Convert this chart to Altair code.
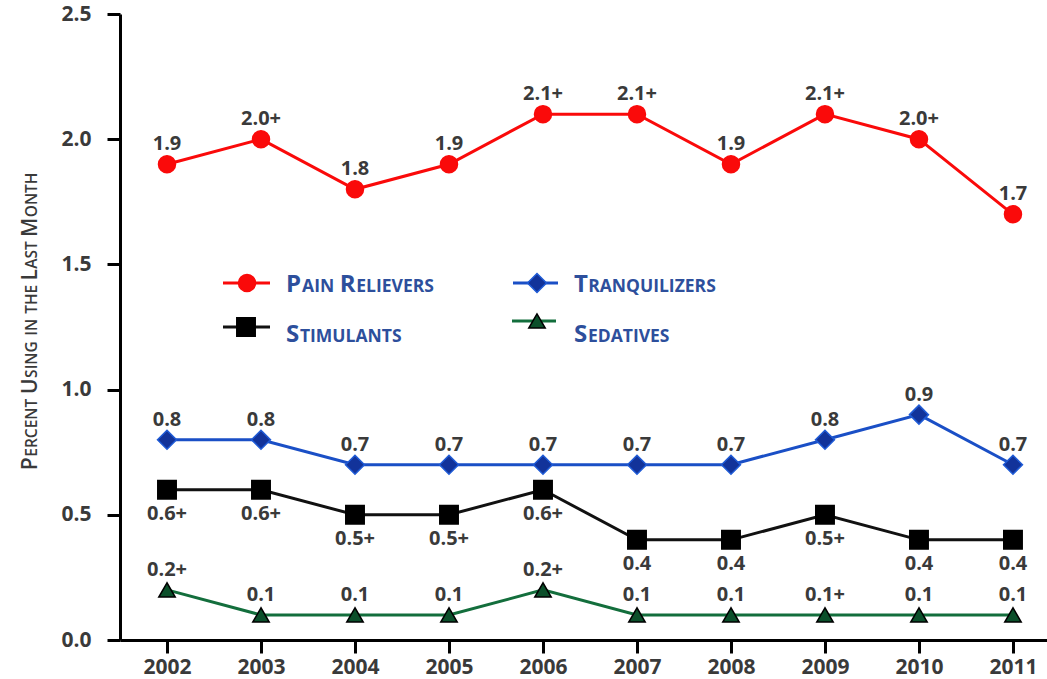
import altair as alt
import pandas as pd

# ---- data -----------------------------------------------------------------
years = [2002, 2003, 2004, 2005, 2006, 2007, 2008, 2009, 2010, 2011]

pain_values = [1.9, 2.0, 1.8, 1.9, 2.1, 2.1, 1.9, 2.1, 2.0, 1.7]
pain_labels = ["1.9", "2.0+", "1.8", "1.9", "2.1+", "2.1+", "1.9", "2.1+", "2.0+", "1.7"]

tranq_values = [0.8, 0.8, 0.7, 0.7, 0.7, 0.7, 0.7, 0.8, 0.9, 0.7]
tranq_labels = ["0.8", "0.8", "0.7", "0.7", "0.7", "0.7", "0.7", "0.8", "0.9", "0.7"]

stim_values = [0.6, 0.6, 0.5, 0.5, 0.6, 0.4, 0.4, 0.5, 0.4, 0.4]
stim_labels = ["0.6+", "0.6+", "0.5+", "0.5+", "0.6+", "0.4", "0.4", "0.5+", "0.4", "0.4"]

sed_values = [0.2, 0.1, 0.1, 0.1, 0.2, 0.1, 0.1, 0.1, 0.1, 0.1]
sed_labels = ["0.2+", "0.1", "0.1", "0.1", "0.2+", "0.1", "0.1", "0.1+", "0.1", "0.1"]

y_ticks = [0.0, 0.5, 1.0, 1.5, 2.0, 2.5]
y_title = "Percent Using in the Last Month"

FONT = "Open Sans"
TEXT_GREY = "#3a3a3a"
LEGEND_BLUE = "#2d4f9c"

# name, values, labels, line colour, shape, fill, stroke, size, label offset
series = [
    ("Pain Relievers", pain_values, pain_labels, "#fa0a0a", "circle", "#fa0a0a", "#fa0a0a", 290, -20),
    ("Tranquilizers", tranq_values, tranq_labels, "#1a4fc6", "diamond", "#12339a", "#1f5bd6", 360, -20),
    ("Stimulants", stim_values, stim_labels, "#111111", "square", "#000000", "#000000", 340, 24),
    ("Sedatives", sed_values, sed_labels, "#136e3c", "triangle-up", "#0b4f2a", "#000000", 270, -20),
]

# ---- plot geometry ---------------------------------------------------------
PAD_LEFT, PAD_TOP = 120, 14
PLOT_W, PLOT_H = 927, 626

x_enc = alt.X(
    "year:Q",
    scale=alt.Scale(domain=[2001.5, 2011.362], nice=False, zero=False),
    axis=alt.Axis(
        values=years, format="d", title=None, grid=False,
        domainColor="black", domainWidth=3,
        tickColor="black", tickWidth=3, tickSize=13,
        labelFont=FONT, labelFontSize=21, labelFontWeight="bold",
        labelColor=TEXT_GREY, labelPadding=3, labelFlush=False,
    ),
)
y_enc = alt.Y(
    "value:Q",
    scale=alt.Scale(domain=[0, 2.5], nice=False),
    axis=alt.Axis(
        values=y_ticks, format=".1f", title=None, grid=False,
        domainColor="black", domainWidth=3,
        tickColor="black", tickWidth=3, tickSize=13,
        labelFont=FONT, labelFontSize=21, labelFontWeight="bold",
        labelColor=TEXT_GREY, labelPadding=16, labelFlush=False,
    ),
)

layers = []
for name, vals, labs, line_col, shape, fill, stroke, size, dy in series:
    df = pd.DataFrame({"year": years, "value": vals, "label": labs, "series": name})
    base = alt.Chart(df).encode(x=x_enc, y=y_enc)
    layers.append(base.mark_line(color=line_col, strokeWidth=3))
    layers.append(base.mark_point(shape=shape, filled=True, fill=fill, stroke=stroke,
                                  strokeWidth=1.5, size=size, opacity=1))
    layers.append(base.mark_text(dy=dy, font=FONT, fontSize=20, fontWeight="bold",
                                 color=TEXT_GREY, baseline="middle").encode(text="label:N"))

# ---- small-caps text helper ------------------------------------------------
CHAR_W = {
    "A": .69, "B": .70, "C": .66, "D": .76, "E": .57, "F": .55, "G": .76, "H": .80,
    "I": .37, "J": .33, "K": .68, "L": .57, "M": .97, "N": .83, "O": .81, "P": .67,
    "Q": .81, "R": .69, "S": .58, "T": .59, "U": .79, "V": .66, "W": 1.0, "X": .67,
    "Y": .63, "Z": .59,
}
SPACE_W = 0.26


def small_caps_runs(phrase, big, small, scale=1.0):
    """Split a phrase into (text, font size, start offset) runs, capitals large."""
    runs, offset = [], 0.0
    cur, cur_size, cur_start = "", None, 0.0
    for ch in phrase:
        if ch == " ":
            if cur:
                runs.append((cur, cur_size, cur_start))
                cur = ""
            offset += SPACE_W * small * scale
            continue
        size = big if ch.isupper() else small
        if cur and size != cur_size:
            runs.append((cur, cur_size, cur_start))
            cur = ""
        if not cur:
            cur_size, cur_start = size, offset
        cur += ch.upper()
        offset += CHAR_W.get(ch.upper(), .6) * size * scale
    if cur:
        runs.append((cur, cur_size, cur_start))
    return runs, offset


def text_layer(txt, x, y, size, color, weight="bold", angle=0):
    return alt.Chart(pd.DataFrame({"t": [txt]})).mark_text(
        font=FONT, fontSize=size, fontWeight=weight, color=color,
        align="left", baseline="alphabetic", angle=angle,
    ).encode(x=alt.value(x - PAD_LEFT), y=alt.value(y - PAD_TOP), text="t:N")


# ---- legend (drawn by hand) ------------------------------------------------
legend_pos = {
    "Pain Relievers": (223, 270, 247, 283, 286, 292),
    "Stimulants": (223, 270, 246, 327, 286, 342),
    "Tranquilizers": (513, 558, 537, 283, 574, 292),
    "Sedatives": (512, 556, 537, 321, 574, 342),
}
for name, vals, labs, line_col, shape, fill, stroke, size, dy in series:
    lx1, lx2, sx, sy, tx, ty = legend_pos[name]
    one = pd.DataFrame({"k": [0]})
    layers.append(alt.Chart(one).mark_rule(color=line_col, strokeWidth=3).encode(
        x=alt.value(lx1 - PAD_LEFT), x2=alt.value(lx2 - PAD_LEFT), y=alt.value(sy - PAD_TOP)))
    layers.append(alt.Chart(one).mark_point(shape=shape, filled=True, fill=fill, stroke=stroke,
                                            strokeWidth=1.5, size=size, opacity=1).encode(
        x=alt.value(sx - PAD_LEFT), y=alt.value(sy - PAD_TOP)))
    runs, _ = small_caps_runs(name, 24, 17.5)
    for txt, sz, off in runs:
        layers.append(text_layer(txt, tx + off, ty, sz, LEGEND_BLUE))

# ---- rotated y-axis title ---------------------------------------------------
runs, total = small_caps_runs(y_title, 21, 15.5, scale=0.97)
title_start = 321 + total / 2
for txt, sz, off in runs:
    layers.append(text_layer(txt, 37, title_start - off, sz, TEXT_GREY, weight=600, angle=270))

chart = alt.layer(*layers).properties(
    width=PLOT_W, height=PLOT_H,
    autosize=alt.AutoSizeParams(type="none"),
    padding={"left": PAD_LEFT, "top": PAD_TOP, "right": 0, "bottom": 679 - PAD_TOP - PLOT_H},
    background="white",
).configure_view(stroke=None)

chart.save("out.html", embed_options={"renderer": "svg", "actions": False})
